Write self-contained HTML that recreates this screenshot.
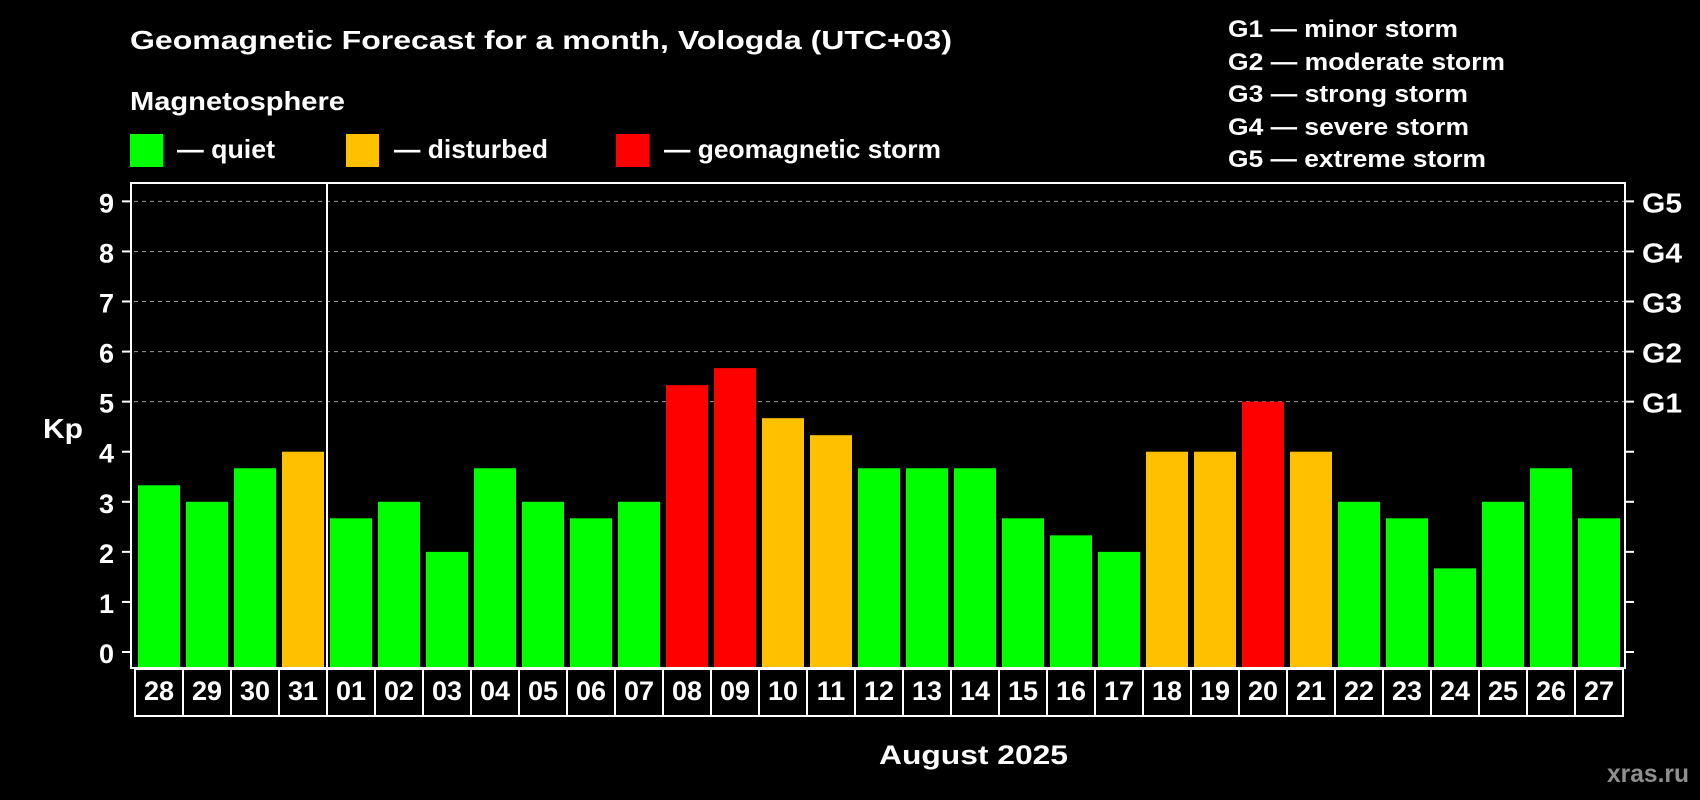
<!DOCTYPE html>
<html><head><meta charset="utf-8"><style>
html,body{margin:0;padding:0;background:#000;}
svg{display:block;font-family:"Liberation Sans",Arial,sans-serif;font-weight:bold;}
</style></head><body>
<svg id="chart" width="1700" height="800" viewBox="0 0 1700 800">
<rect x="0" y="0" width="1700" height="800" fill="#000"/>
<text x="130" y="49" font-size="26" fill="#fff" textLength="822" lengthAdjust="spacingAndGlyphs">Geomagnetic Forecast for a month, Vologda (UTC+03)</text>
<text x="130" y="110" font-size="26" fill="#fff" textLength="215" lengthAdjust="spacingAndGlyphs">Magnetosphere</text>
<rect x="130" y="134" width="33" height="33" fill="#00ff00"/>
<text x="177" y="158" font-size="26" fill="#fff" textLength="98" lengthAdjust="spacingAndGlyphs">— quiet</text>
<rect x="346" y="134" width="33" height="33" fill="#ffc000"/>
<text x="394" y="158" font-size="26" fill="#fff" textLength="154" lengthAdjust="spacingAndGlyphs">— disturbed</text>
<rect x="616" y="134" width="33" height="33" fill="#ff0000"/>
<text x="664" y="158" font-size="26" fill="#fff" textLength="277" lengthAdjust="spacingAndGlyphs">— geomagnetic storm</text>
<g font-size="24" fill="#fff">
<text x="1228" y="37" textLength="230" lengthAdjust="spacingAndGlyphs">G1 — minor storm</text>
<text x="1228" y="70" textLength="277" lengthAdjust="spacingAndGlyphs">G2 — moderate storm</text>
<text x="1228" y="102" textLength="240" lengthAdjust="spacingAndGlyphs">G3 — strong storm</text>
<text x="1228" y="135" textLength="241" lengthAdjust="spacingAndGlyphs">G4 — severe storm</text>
<text x="1228" y="167" textLength="258" lengthAdjust="spacingAndGlyphs">G5 — extreme storm</text>
</g>
<text x="43" y="438" font-size="28" fill="#fff" textLength="40" lengthAdjust="spacingAndGlyphs">Kp</text>
<text x="879" y="764" font-size="27" fill="#fff" textLength="189" lengthAdjust="spacingAndGlyphs">August 2025</text>
<text x="1607" y="782" font-size="25" fill="#8f8f8f" textLength="82" lengthAdjust="spacingAndGlyphs">xras.ru</text>
<g id="plot"></g>
</svg>
<script>
const days = ["28","29","30","31","01","02","03","04","05","06","07","08","09","10","11","12","13","14","15","16","17","18","19","20","21","22","23","24","25","26","27"];
const kpValues = [3.33,3,3.67,4,2.67,3,2,3.67,3,2.67,3,5.33,5.67,4.67,4.33,3.67,3.67,3.67,2.67,2.33,2,4,4,5,4,3,2.67,1.67,3,3.67,2.67];
const yTicks = [0,1,2,3,4,5,6,7,8,9];
const gLevels = [5,6,7,8,9];
const gLabels = ["G1","G2","G3","G4","G5"];
const monthBreakIndex = 4;

const NS = "http://www.w3.org/2000/svg";
const plot = document.getElementById("plot");
const L = 131, R = 1625, T = 183, B = 668;
const slot0 = 135, slotW = 48;
function y(v){ return 652 - v * 50.07; }
function x(i){ return slot0 + i * slotW; }
function mk(tag, attrs){ const e = document.createElementNS(NS, tag); for (const k in attrs) e.setAttribute(k, attrs[k]); plot.appendChild(e); return e; }
function colorFor(v){ return v >= 5 ? "#ff0000" : (v >= 4 ? "#ffc000" : "#00ff00"); }

yTicks.forEach(t => {
  if (t >= 5) {
    const g = mk("line", {x1: L + 3, x2: R, y1: y(t), y2: y(t), stroke: "#9a9a9a", "stroke-width": 1, "stroke-dasharray": "4,4"});
    
    
  }
  const tk = mk("line", {x1: L - 9, x2: L, y1: y(t), y2: y(t), stroke: "#fff", "stroke-width": 2});
  
  
  const tr = mk("line", {x1: R, x2: R + 9, y1: y(t), y2: y(t), stroke: "#fff", "stroke-width": 2});
  
  
  const lb = mk("text", {x: 114, y: y(t) + 11, "font-size": 27, fill: "#fff", "text-anchor": "end"});
  lb.textContent = String(t);
  
  
});
gLevels.forEach((lv, i) => {
  const g = mk("text", {x: 1642, y: y(lv) + 11, "font-size": 28, fill: "#fff", textLength: 40, lengthAdjust: "spacingAndGlyphs"});
  g.textContent = gLabels[i];
  
  
});

kpValues.forEach((v, i) => {
  const b = mk("rect", {x: x(i) + 3, y: y(v), width: 42, height: (B - 1) - y(v), fill: colorFor(v)});
  
  
  const cell = mk("rect", {x: x(i), y: B + 1, width: slotW, height: 47, fill: "none", stroke: "#fff", "stroke-width": 2});
  
  
  const t = mk("text", {x: x(i) + slotW / 2, y: 700, "font-size": 27, fill: "#fff", "text-anchor": "middle"});
  t.textContent = days[i];
  
  
});

const sep = mk("line", {x1: x(monthBreakIndex), x2: x(monthBreakIndex), y1: T, y2: B, stroke: "#fff", "stroke-width": 2});


const frame = mk("rect", {x: L, y: T, width: R - L, height: B - T, fill: "none", stroke: "#fff", "stroke-width": 2});


</script>
</body></html>
